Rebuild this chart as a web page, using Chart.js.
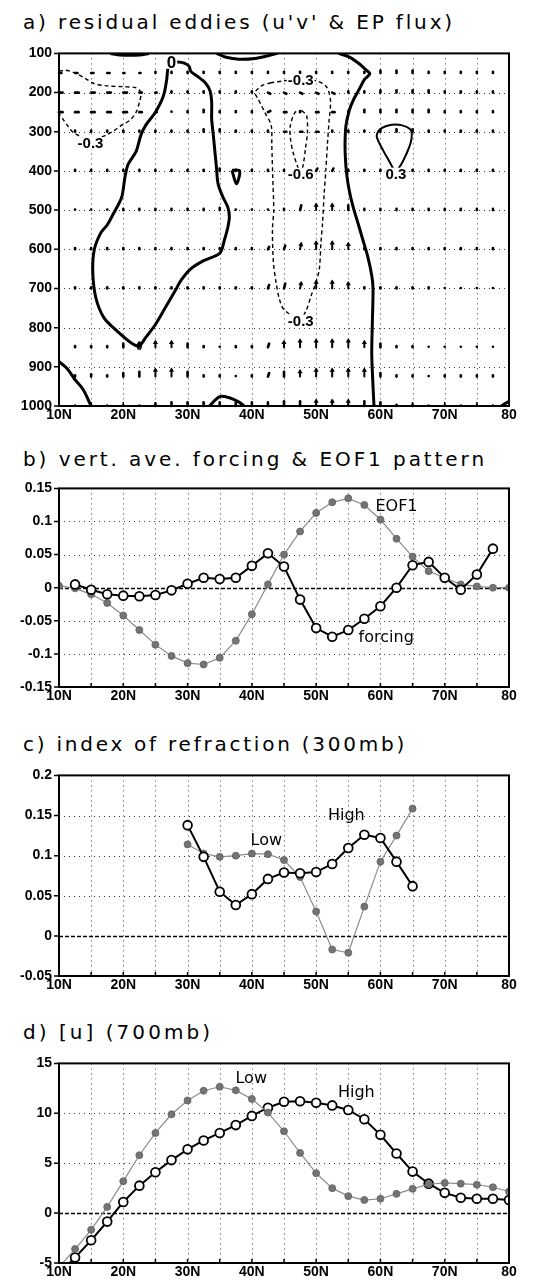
<!DOCTYPE html>
<html><head><meta charset="utf-8">
<script src="https://cdn.jsdelivr.net/npm/chart.js@4.4.1/dist/chart.umd.min.js"></script>
<style>
html,body{margin:0;padding:0;background:#fff;}
body{position:relative;width:543px;height:1285px;overflow:hidden;}
.title{position:absolute;left:23px;font-family:'DejaVu Sans',sans-serif;font-size:20px;line-height:20px;white-space:nowrap;color:#000;}
canvas{position:absolute;left:0;}
</style></head><body>
<div class="title" style="top:12px" data-w="432">a) residual eddies (u'v' &amp; EP flux)</div>
<div class="title" style="top:449px" data-w="464">b) vert. ave. forcing &amp; EOF1 pattern</div>
<div class="title" style="top:734px" data-w="384">c) index of refraction (300mb)</div>
<div class="title" style="top:1022px" data-w="190">d) [u] (700mb)</div>
<canvas id="ca" width="543" height="393" style="top:38px"></canvas>
<canvas id="cb" width="543" height="239" style="top:473px"></canvas>
<canvas id="cc" width="543" height="241" style="top:760px"></canvas>
<canvas id="cd" width="543" height="240" style="top:1048px"></canvas>
<script>
// ================= DATA =================
// shared latitude axis
const xTickVals = [10, 20, 30, 40, 50, 60, 70, 80];
const xTickLabels = ['10N', '20N', '30N', '40N', '50N', '60N', '70N', '80'];

// ---- panel a: pressure axis ----
const aTickVals = [100, 200, 300, 400, 500, 600, 700, 800, 900, 1000];
const aTickLabels = ['100', '200', '300', '400', '500', '600', '700', '800', '900', '1000'];

// EP flux vector grid (components, arbitrary units; null = no vector)
const epLats = [10, 12.5, 15, 17.5, 20, 22.5, 25, 27.5, 30, 32.5, 35, 37.5, 40, 42.5, 45, 47.5, 50, 52.5, 55, 57.5, 60, 62.5, 65, 67.5, 70, 72.5, 75, 77.5];
const epLevels = [150, 200, 250, 300, 400, 500, 600, 700, 850, 925, 1000];
const epU = [
  [2, 2, 2, 2, 1, 1, 0, 0, 0, 0, 0, 0, 0, 0, 0, 0, 0, 0, 0, 0, 0, 0, 0, 0, 0, 0, 0, 0],
  [3, 3, 3, 3, 3, 2, 1, 0, 0, 0, 0, 0, 0, 2, 2, 2, 2, 2, 0, 0, 0, 0, 0, 0, 0, 0, 0, 0],
  [3, 3, 3, 3, 3, 2, 1, 0, 0, 0, 0, 0, 0, 2, 2, 0, 2, 2, 0, 0, 0, 0, 0, 0, 0, 0, 0, 0],
  [null, 0, 0, 0, 0, 0, 0, 0, 0, 0, 0, 0, 0, 0, 2, 2, 2, 0, 0, 0, 0, 0, 0, 0, 0, 0, 0, 0],
  [null, 0, 0, 0, 0, 0, 0, 0, 0, 0, 0, 0, 0, 0, 0, 0, 1, 1, 0, 0, 0, 0, 0, 0, 0, 0, 0, 0],
  [null, 0, 0, 0, 0, 0, 0, 0, 0, 0, 0, 0, 0, 0, 0, 1, 0, 0, 0, 0, 0, 0, 0, 0, 0, 0, 0, 0],
  [null, 0, 0, 0, 0, 0, 0, 0, 0, 0, 0, 0, 0, 1, 1, 1, 0, 0, 0, 0, 0, 0, 0, 0, 0, 0, 0, 0],
  [null, 0, 0, 0, 0, 0, 0, 0, 0, 0, 0, 0, 0, 1, 1, 1, 0, 0, 0, 0, 0, 0, 0, 0, 0, 0, 0, 0],
  [null, 0, 0, 0, 0, 0, 0, 0, 0, 0, 0, 0, 0, 1, 0, 0, 0, 0, 0, 0, 0, 0, 0, 0, 0, 0, 0, 0],
  [null, 0, 0, 0, 0, 0, 0, 0, 0, 0, 0, 0, 0, 1, 0, 0, 0, 0, 0, 0, 0, 0, 0, 0, 0, 0, 0, 0],
  [null, 0, 0, 0, 0, 0, 0, 0, 0, 0, 0, 0, 0, 0, 0, 0, 0, 0, 0, 0, 0, 0, 0, 0, 0, 0, 0, 0]
];
const epV = [
  [0, 0, 0, 0, 0, 0, 1, 1, 1, 1, 1, 1, 1, 1, 1, 1, 1, 1, 1, 1, 2, 2, 2, 1, 1, 1, 1, 1],
  [0, 0, 0, 0, 0, 0, 0, 1, 1, 1, 1, 1, 1, -1, -1, -1, -1, -1, 1, 1, 2, 2, 2, 2, 1, 1, 1, 1],
  [0, 0, 0, 0, 0, 0, 0, 0, 1, 2, 1, 1, 1, 1, 0, 1, 0, 0, 1, 2, 2, 2, 2, 2, 1, 1, 1, 1],
  [null, 1, 1, 1, 1, 1, 1, 1, 1, 2, 2, 1, 1, 1, 0, 0, 0, 1, 1, 1, 2, 2, 2, 1, 1, 1, 1, 1],
  [null, 1, 1, 1, 1, 1, 1, 1, 1, 1, 2, 1, 1, 1, 1, 1, 2, 2, 1, 1, 1, 1, 1, 1, 1, 1, 1, 1],
  [null, 0, 0, 0, 1, 1, 1, 1, 1, 1, 2, 0, 0, 0, 1, 4, 5, 5, 4, 1, 1, 1, 1, 1, 1, 1, 1, 1],
  [null, 1, 1, 1, 1, 1, 1, 1, 1, 1, 1, 1, 1, 2, 3, 5, 6, 6, 5, 1, 1, 1, 1, 1, 1, 1, 1, 1],
  [null, 1, 1, 1, 1, 1, 1, 1, 1, 1, 1, 1, 1, 3, 4, 5, 6, 6, 5, 1, 1, 1, 1, 1, 0, 0, 0, 0],
  [null, 1, 1, 1, 3, 4, 5, 5, 3, 1, 0, 1, 1, 3, 5, 6, 6, 6, 6, 5, 3, 1, 1, 0, 0, 0, 0, 0],
  [null, 1, 2, 1, 3, 4, 6, 6, 4, 1, 1, 0, 1, 3, 4, 5, 6, 6, 6, 6, 3, 1, 1, 0, 1, 1, 1, 1],
  [null, 0, 0, 0, 0, 0, 2, 3, 3, 3, 3, 3, 3, 3, 4, 4, 5, 5, 5, 4, 3, 1, 1, 0, 0, 0, 0, 0]
];

// u'v' contours as [lat, pressure] pairs
const c0Loop = [[27.5,124],[28.5,122],[29.5,125],[30.25,133],[30.5,146],[31.5,158],[32.75,175],[33.5,196],[33.75,225],[33.75,267],[34,308],[34.25,350],[34.5,392],[34.75,433],[35.5,467],[36.25,492],[36.5,517],[36.25,545],[35.75,575],[35,610],[32.5,629],[30.5,650],[29,679],[28,708],[26.5,750],[25,792],[23.5,825],[22.5,846],[21.5,842],[19,808],[17,775],[15.75,725],[15.25,658],[15.5,600],[16.5,558],[17.5,538],[18.5,508],[19.75,467],[20.25,417],[20.75,383],[22,350],[22.75,308],[23.5,283],[25,250],[26.25,208],[26.75,167],[27,133],[27.5,124]];
const c0TopW = [[18,100],[19.5,104],[21,105],[22.5,104],[24,100]];
const c0TopE = [[34.5,100],[36,110],[38,115],[40.5,113],[42.5,106],[44,100]];
const c0East = [[53.5,100],[55.25,110],[56.75,127],[57.75,142],[58.35,152],[57.5,167],[56.75,190],[55.85,217],[55.15,246],[54.65,283],[54.5,325],[54.55,367],[54.75,408],[55.15,450],[55.75,492],[56.5,533],[57.25,575],[58,617],[58.65,667],[58.85,700],[58.75,783],[58.65,867],[58.85,950],[59,1000]];
const c0SW = [[10,887],[11.25,904],[12.5,933],[13.75,958],[15,1000]];
const c0Bump = [[33.4,1000],[35,976],[36.5,979],[38,990],[38.8,1000]];
const c0Corner = [[78.8,1000],[80,988]];
const c0Small = [[36.9,398],[38.1,400],[37.6,433],[36.9,398]];
const cPos03 = [[62.3,405],[63.25,383],[64,358],[64.75,325],[64.75,296],[63.25,283],[61.75,282],[60.25,290],[59.5,304],[59.5,317],[60.5,350],[61.5,379],[62.3,405]];
const cNeg03W = [[10,146],[11,143],[12.5,150],[14,163],[15.5,177],[17.5,183],[20,185],[22,188],[22.75,200],[22.5,225],[22,250],[21,271],[19.75,283],[18.5,298],[17.5,307],[15,322],[12.25,302],[11.5,288],[10.75,271],[10,254]];
const cNeg03M = [[43,175],[41.5,183],[40.5,200],[41,217],[42,250],[43,283],[43.1,333],[43.25,417],[43.4,500],[43.2,550],[43.35,633],[43.75,683],[44.25,725],[45,754],[47.5,778],[48.5,754],[49.25,717],[50,683],[50.5,650],[50.75,583],[51,533],[51.25,458],[51.5,400],[51.75,333],[52,275],[52.25,225],[52,200],[51.5,183],[50.25,171],[47.6,166],[45,170],[43,175]];
const cNeg06 = [[47.75,246],[48.5,258],[48.65,300],[48.35,342],[48,383],[47.6,405],[46.5,358],[46,317],[46,283],[46.75,250],[47.75,246]];
const aLabelText = ['0', '-0.3', '-0.3', '-0.6', '-0.3', '0.3', '0'];
const aLabelLat = [27.5, 14.9, 47.6, 47.6, 47.6, 62.4, 22.5];
const aLabelP = [124, 329, 168, 407, 782, 407, 848];

// ---- panel b ----
const bLats = [10, 12.5, 15, 17.5, 20, 22.5, 25, 27.5, 30, 32.5, 35, 37.5, 40, 42.5, 45, 47.5, 50, 52.5, 55, 57.5, 60, 62.5, 65, 67.5, 70, 72.5, 75, 77.5, 80];
const bEOF1 = [0.003, -0.001, -0.010, -0.023, -0.042, -0.064, -0.086, -0.103, -0.114, -0.116, -0.106, -0.080, -0.040, 0.005, 0.050, 0.085, 0.113, 0.129, 0.135, 0.125, 0.103, 0.074, 0.047, 0.025, 0.015, 0.005, 0.002, 0.000, 0.000];
const bForcing = [null, 0.005, -0.003, -0.010, -0.012, -0.013, -0.011, -0.004, 0.006, 0.015, 0.013, 0.015, 0.033, 0.052, 0.032, -0.018, -0.061, -0.074, -0.064, -0.047, -0.028, 0.000, 0.034, 0.039, 0.015, -0.003, 0.020, 0.059, null];
const bTickVals = [-0.15, -0.1, -0.05, 0, 0.05, 0.1, 0.15];
const bTickLabels = ['-0.15', '-0.1', '-0.05', '0', '0.05', '0.1', '0.15'];
const bNoteText = ['EOF1', 'forcing'];
const bNoteLat = [62.5, 60.9];
const bNoteVal = [0.1225, -0.076];

// ---- panel c ----
const cLats = [30, 32.5, 35, 37.5, 40, 42.5, 45, 47.5, 50, 52.5, 55, 57.5, 60, 62.5, 65];
const cHigh = [0.138, 0.0985, 0.055, 0.0385, 0.052, 0.071, 0.079, 0.078, 0.0795, 0.0896, 0.1095, 0.126, 0.122, 0.0925, 0.062];
const cLow = [0.114, 0.1026, 0.0985, 0.100, 0.1026, 0.1018, 0.0945, 0.0734, 0.0304, -0.017, -0.021, 0.0365, 0.0925, 0.125, 0.1586];
const cTickVals = [-0.05, 0, 0.05, 0.1, 0.15, 0.2];
const cTickLabels = ['-0.05', '0', '0.05', '0.1', '0.15', '0.2'];
const cNoteText = ['High', 'Low'];
const cNoteLat = [54.7, 42.25];
const cNoteVal = [0.149, 0.1187];

// ---- panel d ----
const dLats = [10, 12.5, 15, 17.5, 20, 22.5, 25, 27.5, 30, 32.5, 35, 37.5, 40, 42.5, 45, 47.5, 50, 52.5, 55, 57.5, 60, 62.5, 65, 67.5, 70, 72.5, 75, 77.5, 80];
const dLow = [-5.4, -3.6, -1.67, 0.62, 3.2, 5.8, 8.03, 9.9, 11.28, 12.26, 12.66, 12.3, 11.44, 10.07, 8.2, 6.03, 4.0, 2.5, 1.7, 1.31, 1.44, 1.93, 2.43, 2.89, 3.02, 2.95, 2.85, 2.59, 2.16];
const dHigh = [-6.0, -4.46, -2.72, -0.85, 1.11, 2.75, 4.1, 5.31, 6.39, 7.28, 8.03, 8.82, 9.74, 10.56, 11.15, 11.21, 11.05, 10.79, 10.33, 9.41, 7.84, 5.97, 4.16, 2.95, 2.03, 1.54, 1.44, 1.44, 1.31];
const dTickVals = [-5, 0, 5, 10, 15];
const dTickLabels = ['-5', '0', '5', '10', '15'];
const dNoteText = ['Low', 'High'];
const dNoteLat = [39.9, 56.25];
const dNoteVal = [13.5, 12.07];

// ================= RENDERING =================
document.querySelectorAll('.title').forEach(el => {
  const target = +el.dataset.w, n = el.textContent.length;
  const w = el.getBoundingClientRect().width;
  el.style.letterSpacing = ((target - w) / n) + 'px';
});

const TICKFONT = {family: "'Liberation Sans', Arial, sans-serif", size: 14, weight: 'bold'};

const framePlugin = {
  id: 'frame',
  beforeDatasetsDraw(chart, args, opts) {
    const {ctx, chartArea: a, scales: {x, y}} = chart;
    ctx.save();
    ctx.strokeStyle = '#3a3a3a'; ctx.lineWidth = 1; ctx.setLineDash([1, 4]);
    ctx.beginPath();
    for (let v = 15; v < 80; v += 5) {
      const px = Math.round(x.getPixelForValue(v)) + 0.5;
      ctx.moveTo(px, a.top); ctx.lineTo(px, a.bottom);
    }
    y.ticks.forEach(t => {
      if (t.value === y.min || t.value === y.max) return;
      if (opts.zero && t.value === 0) return;
      const py = Math.round(y.getPixelForValue(t.value)) + 0.5;
      ctx.moveTo(a.left, py); ctx.lineTo(a.right, py);
    });
    ctx.stroke();
    if (opts.zero) {
      ctx.setLineDash([4, 2]); ctx.strokeStyle = '#000'; ctx.lineWidth = 1.3;
      const py = Math.round(y.getPixelForValue(0)) + 0.5;
      ctx.beginPath(); ctx.moveTo(a.left, py); ctx.lineTo(a.right, py); ctx.stroke();
    }
    ctx.restore();
  },
  afterDraw(chart) {
    const {ctx, chartArea: a, scales: {x, y}} = chart;
    ctx.save();
    ctx.strokeStyle = '#000'; ctx.lineWidth = 2; ctx.setLineDash([]);
    ctx.strokeRect(a.left, a.top, a.width, a.height);
    ctx.lineWidth = 1.5; ctx.beginPath();
    y.ticks.forEach(t => { const py = y.getPixelForValue(t.value); ctx.moveTo(a.left - 5, py); ctx.lineTo(a.left, py); });
    for (let v = 15; v < 80; v += 5) { const px = x.getPixelForValue(v); ctx.moveTo(px, a.bottom); ctx.lineTo(px, a.bottom - 4); }
    ctx.stroke();
    ctx.restore();
  }
};

const notesPlugin = {
  id: 'notes',
  afterDatasetsDraw(chart, args, opts) {
    if (!opts.text) return;
    const {ctx, scales: {x, y}} = chart;
    ctx.save();
    ctx.font = "16px 'DejaVu Sans'"; ctx.fillStyle = '#000';
    ctx.textAlign = 'center'; ctx.textBaseline = 'middle';
    opts.text.forEach((t, i) => ctx.fillText(t, x.getPixelForValue(opts.lat[i]), y.getPixelForValue(opts.val[i])));
    ctx.restore();
  }
};

const arrowPlugin = {
  id: 'arrows',
  beforeDatasetsDraw(chart) {
    const {ctx, scales: {x, y}} = chart;
    const k = 1.5;
    ctx.save();
    ctx.fillStyle = '#000'; ctx.strokeStyle = '#000'; ctx.lineCap = 'round';
    epLevels.forEach((p, i) => {
      epLats.forEach((lat, j) => {
        const u = epU[i][j], v = epV[i][j];
        if (u === null || v === null) return;
        const px = x.getPixelForValue(lat), py = y.getPixelForValue(p);
        const L = Math.hypot(u, v);
        if (L < 0.5) {
          ctx.beginPath(); ctx.arc(px, py - 0.5, 1.3, 0, Math.PI * 2); ctx.fill();
        } else if (L < 4.5) {
          ctx.lineWidth = 2.6;
          ctx.beginPath(); ctx.moveTo(px, py); ctx.lineTo(px + u * k * 0.8, py - v * k * 0.8); ctx.stroke();
        } else {
          const hx = px + u * k, hy = py - v * k;
          const ux = u / L, uy = -v / L;
          ctx.lineWidth = 2;
          ctx.beginPath(); ctx.moveTo(px, py); ctx.lineTo(hx - ux * 2, hy - uy * 2); ctx.stroke();
          const hl = 4.2, hw = 2.6;
          ctx.beginPath();
          ctx.moveTo(hx, hy);
          ctx.lineTo(hx - ux * hl - uy * hw, hy - uy * hl + ux * hw);
          ctx.lineTo(hx - ux * hl + uy * hw, hy - uy * hl - ux * hw);
          ctx.closePath(); ctx.fill();
        }
      });
    });
    ctx.restore();
  }
};

const contourLabelPlugin = {
  id: 'clabels',
  afterDatasetsDraw(chart) {
    const {ctx, scales: {x, y}} = chart;
    ctx.save();
    ctx.textAlign = 'center'; ctx.textBaseline = 'middle';
    aLabelText.forEach((t, i) => {
      const px = x.getPixelForValue(aLabelLat[i]), py = y.getPixelForValue(aLabelP[i]);
      const small = (i === aLabelText.length - 1);
      const big = (i === 0);
      ctx.font = small ? "bold 11px 'Liberation Sans'" : (big ? "bold 17px 'Liberation Sans'" : "bold 15px 'Liberation Sans'");
      const w = ctx.measureText(t).width;
      if (!small) { ctx.fillStyle = '#fff'; ctx.fillRect(px - w / 2 - 1, py - 6, w + 2, 12); }
      ctx.fillStyle = '#000';
      ctx.fillText(t, px, py + 1);
    });
    ctx.restore();
  }
};

function axes(yMin, yMax, yVals, yLabels, reverse) {
  return {
    x: {
      type: 'linear', min: 10, max: 80,
      afterFit: s => { s.height = 25; },
      afterBuildTicks: s => { s.ticks = xTickVals.map(v => ({value: v})); },
      grid: {display: false, drawTicks: false}, border: {display: false},
      ticks: {autoSkip: false, maxRotation: 0, padding: 1, color: '#000', font: TICKFONT,
        callback: (v, i) => xTickLabels[i]}
    },
    y: {
      type: 'linear', min: yMin, max: yMax, reverse: !!reverse,
      afterFit: s => { s.width = 59; },
      afterBuildTicks: s => { s.ticks = yVals.map(v => ({value: v})); },
      grid: {display: false, drawTicks: false}, border: {display: false},
      ticks: {autoSkip: false, padding: 7, color: '#000', font: TICKFONT,
        callback: (v, i) => yLabels[i]}
    }
  };
}
function baseOpts(scales, frameOpts, notes) {
  return {
    responsive: false, animation: false, devicePixelRatio: 1,
    layout: {padding: {left: 0, right: 34, top: 10, bottom: 0}},
    plugins: {legend: {display: false}, tooltip: {enabled: false}, frame: frameOpts, notes: notes || {}},
    scales
  };
}
const pts = arr => arr.map(([a, b]) => ({x: a, y: b}));
const series = (lats, vals) => lats.map((l, i) => ({x: l, y: vals[i]}));

function graySet(data) {
  return {data, borderColor: '#8c8c8c', borderWidth: 1.2, pointRadius: 3.5, pointBackgroundColor: '#747474',
    pointBorderColor: '#606060', pointBorderWidth: 0.8, tension: 0, clip: 0, spanGaps: false};
}
function blackSet(data) {
  return {data, borderColor: '#000', borderWidth: 2, pointRadius: 4.4, pointBackgroundColor: '#fff',
    pointBorderColor: '#000', pointBorderWidth: 1.8, tension: 0, clip: 0, spanGaps: false};
}

// ---- panel a ----
const thick = d => ({data: pts(d), showLine: true, pointRadius: 0, borderColor: '#000', borderWidth: 3, tension: 0.3, clip: 0});
const thin = d => ({data: pts(d), showLine: true, pointRadius: 0, borderColor: '#000', borderWidth: 2, tension: 0.3, clip: 0});
const dashed = d => ({data: pts(d), showLine: true, pointRadius: 0, borderColor: '#000', borderWidth: 1.4, borderDash: [4, 3], tension: 0.3, clip: 0});
new Chart(document.getElementById('ca'), {
  type: 'scatter',
  data: {datasets: [
    thick(c0Loop), thick(c0TopW), thick(c0TopE), thick(c0East), thick(c0SW), thick(c0Bump), thick(c0Corner), thick(c0Small),
    thin(cPos03), dashed(cNeg03W), dashed(cNeg03M), dashed(cNeg06)
  ]},
  options: baseOpts(axes(100, 1000, aTickVals, aTickLabels, true), {zero: false}),
  plugins: [framePlugin, arrowPlugin, contourLabelPlugin]
});

// ---- panel b ----
new Chart(document.getElementById('cb'), {
  type: 'line',
  data: {datasets: [blackSet(series(bLats, bForcing)), graySet(series(bLats, bEOF1))]},
  options: baseOpts(axes(-0.15, 0.15, bTickVals, bTickLabels), {zero: true}, {text: bNoteText, lat: bNoteLat, val: bNoteVal}),
  plugins: [framePlugin, notesPlugin]
});

// ---- panel c ----
new Chart(document.getElementById('cc'), {
  type: 'line',
  data: {datasets: [blackSet(series(cLats, cHigh)), graySet(series(cLats, cLow))]},
  options: baseOpts(axes(-0.05, 0.2, cTickVals, cTickLabels), {zero: true}, {text: cNoteText, lat: cNoteLat, val: cNoteVal}),
  plugins: [framePlugin, notesPlugin]
});

// ---- panel d ----
new Chart(document.getElementById('cd'), {
  type: 'line',
  data: {datasets: [graySet(series(dLats, dLow)), blackSet(series(dLats, dHigh))]},
  options: baseOpts(axes(-5, 15, dTickVals, dTickLabels), {zero: true}, {text: dNoteText, lat: dNoteLat, val: dNoteVal}),
  plugins: [framePlugin, notesPlugin]
});
</script>
</body></html>
